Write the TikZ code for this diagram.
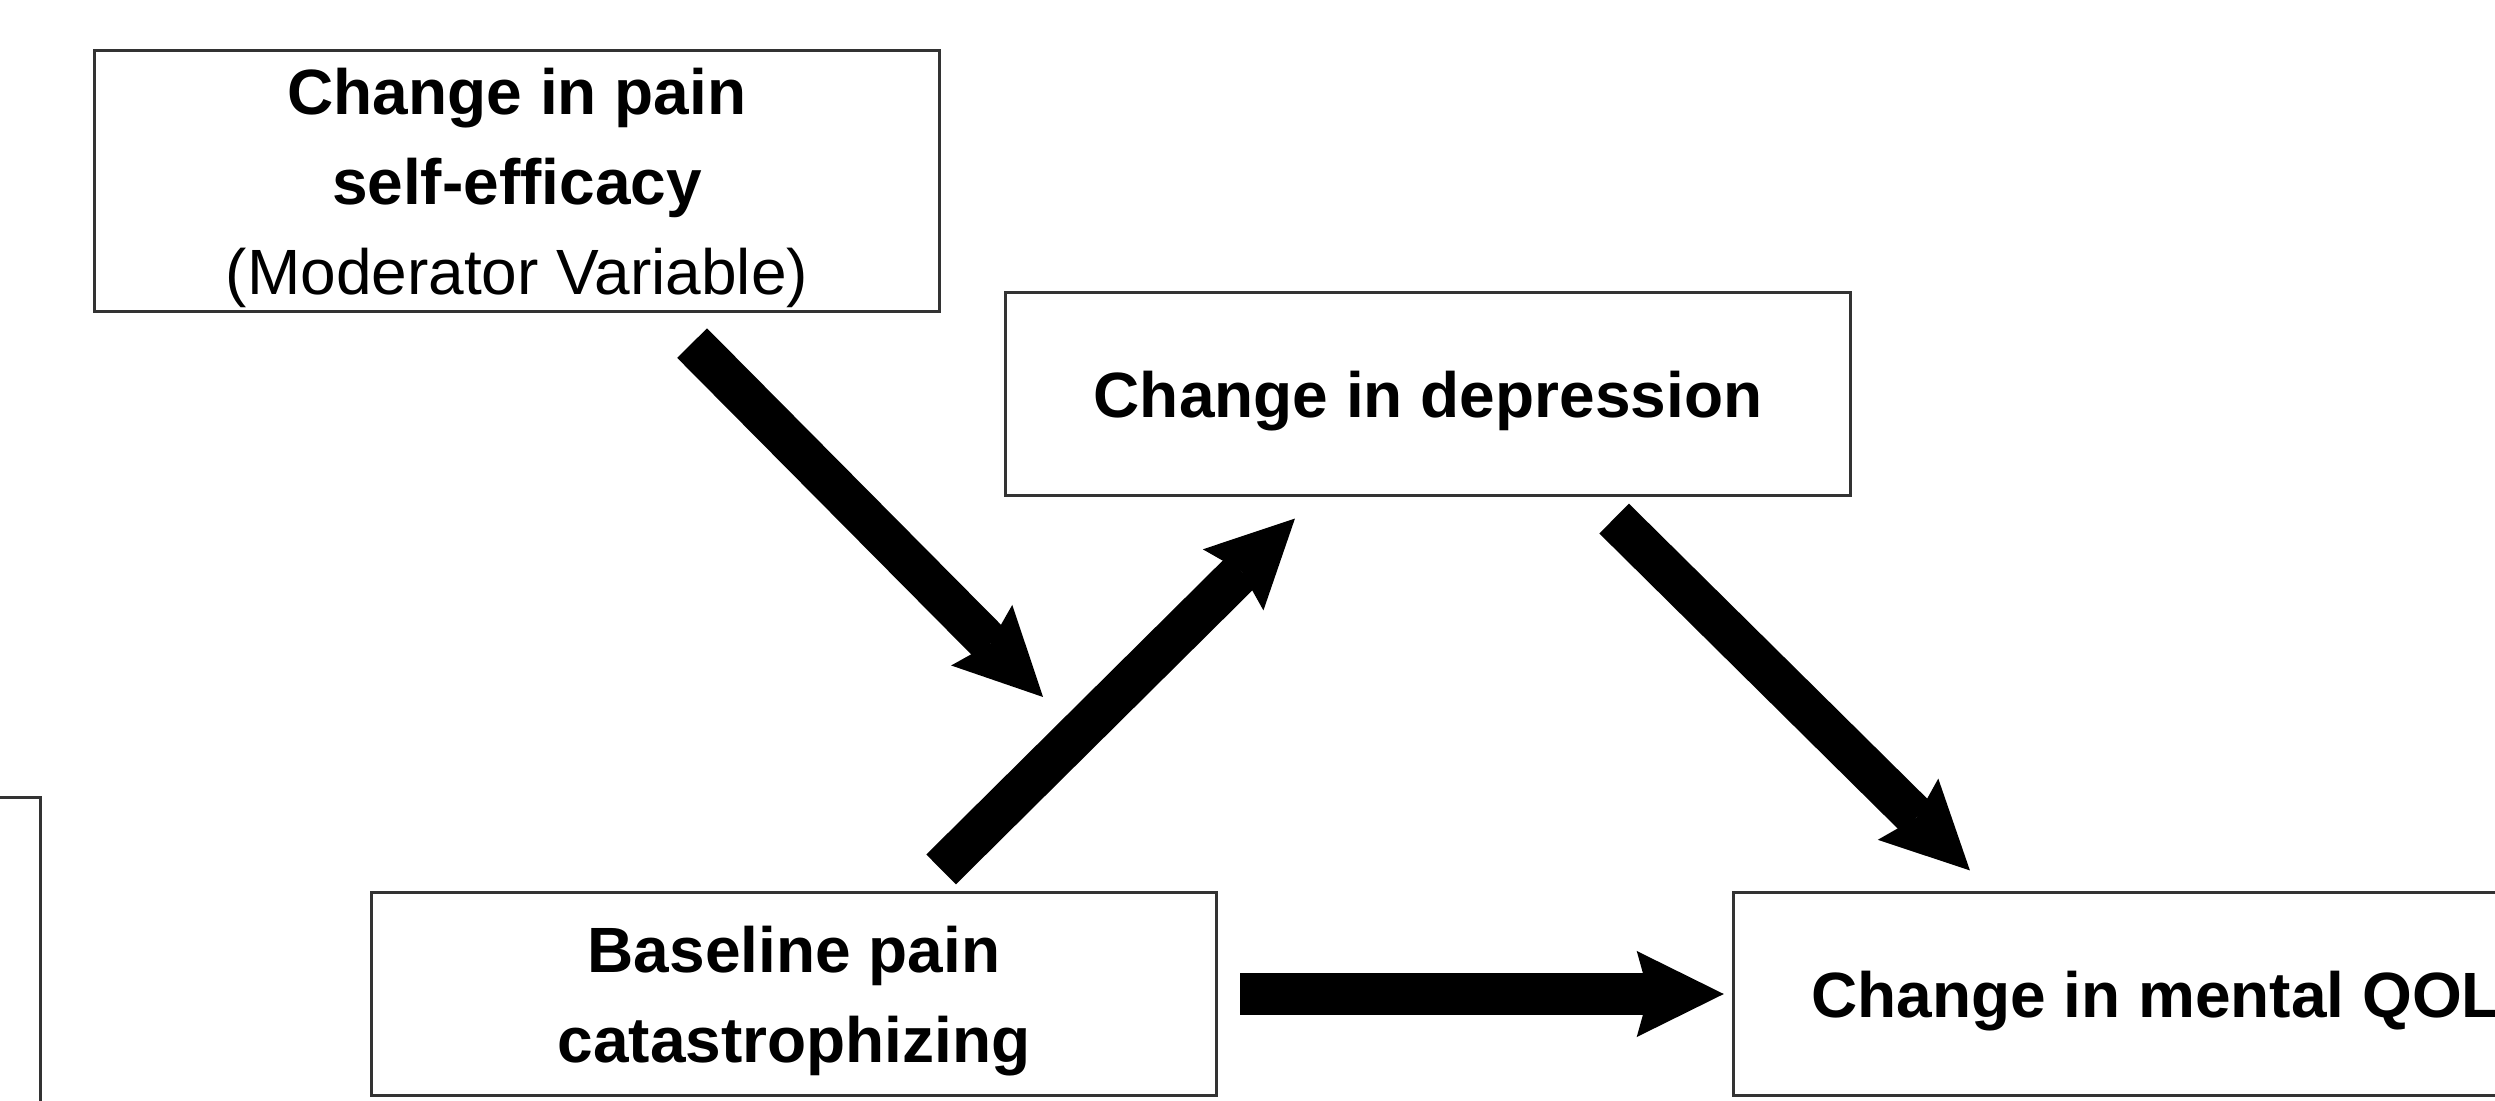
\documentclass[tikz,border=0pt]{standalone}
\usepackage{fontspec}
\setmainfont{Liberation Sans}
\usetikzlibrary{arrows.meta}

\begin{document}
\begin{tikzpicture}[
    x=0.01cm, y=-0.01cm,
    every node/.style={font=\fontsize{18.2}{25.6}\selectfont\bfseries, align=center},
    box/.style={rectangle, draw=black!80, line width=0.03cm, fill=white, inner sep=0pt, text depth=0pt, minimum width=8.45cm, minimum height=2.02cm},
    blockarrow/.style={line width=0.42cm, -{Stealth[length=0.87cm, width=0.86cm, inset=0.12cm, line width=0pt]}}
]
\useasboundingbox (0,0) rectangle (2495,1101);
\clip (0,0) rectangle (2495,1101);

% boxes of the model
\node[box, minimum height=2.61cm] (moderator) at (517,181) {Change in pain\\self-efficacy\\{\mdseries (Moderator Variable)}};
\node[box] (depression) at (1428,394) {Change in depression};
\node[box] (baseline) at (794,994) {Baseline pain\\catastrophizing};
\node[box] (mentalqol) at (2156,994) {Change in mental QOL};
\node[box, minimum height=4cm] (leftbox) at (-382,998) {};

% moderation arrow ends in the gap
\coordinate (modtip) at (1043,697);

\draw[blockarrow] ([xshift=1.75cm, yshift=-0.3cm]moderator.south) -- (modtip);
\draw[blockarrow] ([xshift=1.47cm, yshift=0.22cm]baseline.north) -- ([xshift=-1.33cm, yshift=-0.22cm]depression.south);
\draw[blockarrow] ([xshift=1.86cm, yshift=-0.22cm]depression.south) -- ([xshift=-1.86cm, yshift=0.21cm]mentalqol.north);
\draw[blockarrow] ([xshift=0.22cm]baseline.east) -- ([xshift=-0.08cm]mentalqol.west);
\end{tikzpicture}
\end{document}
